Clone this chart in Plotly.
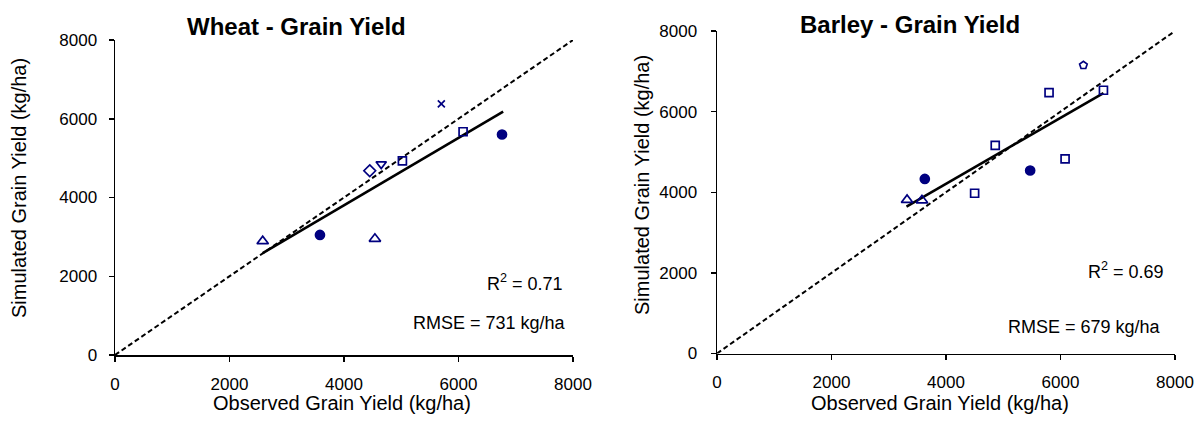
import plotly.graph_objects as go

# ---------------- data ----------------
# Wheat (observed, simulated) by marker group
wheat_tri_x = [2580, 4540]
wheat_tri_y = [2890, 2950]
wheat_dot_x = [3580, 6760]
wheat_dot_y = [3050, 5600]
wheat_dia_x = [4450]
wheat_dia_y = [4680]
wheat_tdn_x = [4650]
wheat_tdn_y = [4850]
wheat_sq_x = [5020, 6080]
wheat_sq_y = [4930, 5670]
wheat_x_x = [5700]
wheat_x_y = [6380]
wheat_fit_x = [2580, 6780]
wheat_fit_y = [2590, 6180]

barley_tri_x = [3320, 3580]
barley_tri_y = [3810, 3800]
barley_dot_x = [3630, 5470]
barley_dot_y = [4330, 4540]
barley_sq_x = [4500, 4860, 6080, 5800, 6750]
barley_sq_y = [3975, 5165, 4830, 6470, 6530]
barley_pent_x = [6400]
barley_pent_y = [7150]
barley_fit_x = [3310, 6750]
barley_fit_y = [3645, 6460]

one_to_one = [0, 8000]
tick_vals = [0, 2000, 4000, 6000, 8000]
tick_text = ["0", "2000", "4000", "6000", "8000"]

titles = ["Wheat - Grain Yield", "Barley - Grain Yield"]
x_title = "Observed Grain Yield (kg/ha)"
y_title = "Simulated Grain Yield (kg/ha)"
r2_text = ["R<sup>2</sup> = 0.71", "R<sup>2</sup> = 0.69"]
rmse_text = ["RMSE = 731 kg/ha", "RMSE = 679 kg/ha"]

W, H = 1195, 427
NAVY = "#000080"
FONT = "Liberation Sans, Arial, sans-serif"

fig = go.Figure()


def add_panel(xa, ya, groups, fit_x, fit_y):
    fig.add_trace(go.Scatter(x=one_to_one, y=one_to_one, mode="lines",
                             line=dict(color="black", width=2, dash="5px,3px"),
                             xaxis=xa, yaxis=ya, showlegend=False, hoverinfo="skip"))
    fig.add_trace(go.Scatter(x=fit_x, y=fit_y, mode="lines",
                             line=dict(color="black", width=2.6),
                             xaxis=xa, yaxis=ya, showlegend=False, hoverinfo="skip"))
    for gx, gy, sym, size in groups:
        fig.add_trace(go.Scatter(x=gx, y=gy, mode="markers", xaxis=xa, yaxis=ya,
                                 showlegend=False,
                                 marker=dict(symbol=sym, size=size, color=NAVY,
                                             line=dict(color=NAVY, width=1.7))))


add_panel("x", "y", [
    (wheat_tri_x, wheat_tri_y, "triangle-up-open", 10),
    (wheat_dot_x, wheat_dot_y, "circle", 9),
    (wheat_dia_x, wheat_dia_y, "diamond-open", 9),
    (wheat_tdn_x, wheat_tdn_y, "triangle-down-open", 9),
    (wheat_sq_x, wheat_sq_y, "square-open", 8),
    (wheat_x_x, wheat_x_y, "x-thin-open", 7),
], wheat_fit_x, wheat_fit_y)

add_panel("x2", "y2", [
    (barley_tri_x, barley_tri_y, "triangle-up-open", 10),
    (barley_dot_x, barley_dot_y, "circle", 9),
    (barley_sq_x, barley_sq_y, "square-open", 8),
    (barley_pent_x, barley_pent_y, "pentagon-open", 8),
], barley_fit_x, barley_fit_y)

# panel geometry in pixels
L = dict(x0=115, x1=573, y0=355, y1=40)
R = dict(x0=717, x1=1175, y0=353.5, y1=31)


def px(v):
    return v / W


def py(v):
    return 1 - v / H


axis_common = dict(range=[0, 8000], tickvals=tick_vals, ticktext=tick_text,
                   showgrid=False, zeroline=False, showline=True, linecolor="black",
                   linewidth=1.5, ticks="outside", ticklen=5, tickwidth=1.5,
                   tickcolor="black", tickfont=dict(family=FONT, size=17, color="black"),
                   fixedrange=True, automargin=False)

fig.update_layout(
    width=W, height=H, margin=dict(l=0, r=0, t=0, b=0, autoexpand=False),
    paper_bgcolor="white", plot_bgcolor="white",
    xaxis=dict(domain=[px(L["x0"]), px(L["x1"])], anchor="y", ticklabelstandoff=8, **axis_common),
    yaxis=dict(domain=[py(L["y0"]), py(L["y1"])], anchor="x", ticklabelstandoff=8, **axis_common),
    xaxis2=dict(domain=[px(R["x0"]), px(R["x1"])], anchor="y2", ticklabelstandoff=8, **axis_common),
    yaxis2=dict(domain=[py(R["y0"]), py(R["y1"])], anchor="x2", ticklabelstandoff=10, **axis_common),
)

anns = []
for i, P in enumerate([L, R]):
    tx = [296, 910][i]
    ty = [26.5, 25][i]
    anns.append(dict(text="<b>" + titles[i] + "</b>", x=px(tx), y=py(ty), xref="paper", yref="paper",
                     showarrow=False, xanchor="center", yanchor="middle",
                     font=dict(family=FONT, size=24, color="black")))
    anns.append(dict(text=x_title, x=px([342, 940][i]), y=py(403), xref="paper", yref="paper",
                     showarrow=False, xanchor="center", yanchor="middle",
                     font=dict(family=FONT, size=20, color="black")))
    anns.append(dict(text=y_title, x=px([19, 642][i]), y=py([188, 185][i]), xref="paper", yref="paper",
                     showarrow=False, xanchor="center", yanchor="middle", textangle=-90,
                     font=dict(family=FONT, size=20, color="black")))
    anns.append(dict(text=r2_text[i], x=px([565, 1166][i]), y=py([282, 270][i]), xref="paper", yref="paper",
                     showarrow=False, xanchor="right", yanchor="middle",
                     font=dict(family=FONT, size=18, color="black")))
    anns.append(dict(text=rmse_text[i], x=px([568, 1163][i]), y=py([323, 327][i]), xref="paper", yref="paper",
                     showarrow=False, xanchor="right", yanchor="middle",
                     font=dict(family=FONT, size=18, color="black")))

fig.update_layout(annotations=anns)

fig.write_html("out.html",
               config={"displayModeBar": False, "staticPlot": True},
               post_script="document.body.style.margin='0';document.body.style.overflow='hidden';")
